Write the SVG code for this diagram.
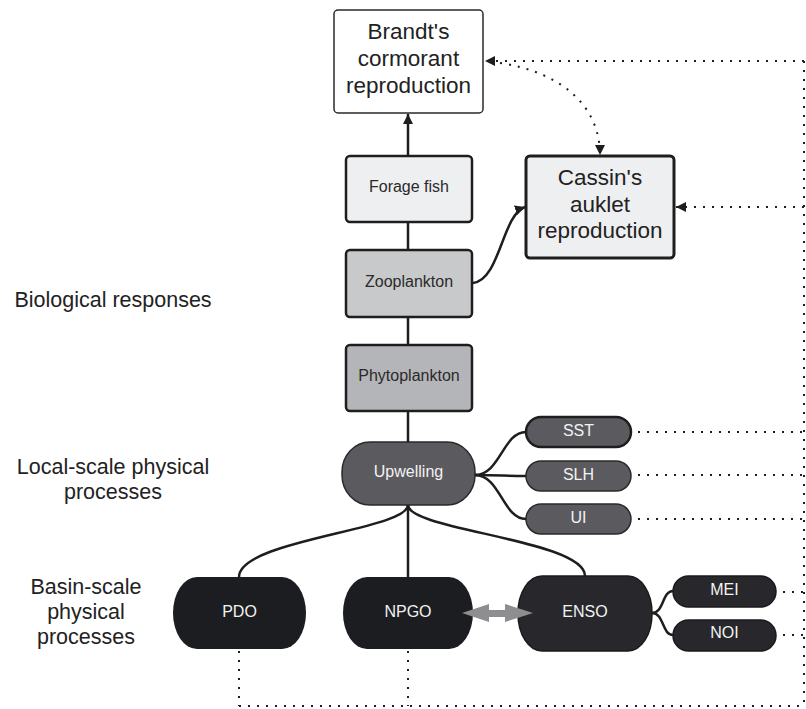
<svg xmlns="http://www.w3.org/2000/svg" width="806" height="709" viewBox="0 0 806 709">
<style>
text{font-family:"Liberation Sans",Arial,sans-serif;text-anchor:middle}
.lbl{font-size:21.5px;fill:#222}
.big{font-size:22.5px;fill:#222}
.t{font-size:16px;fill:#2a2a2a}
.w{font-size:16px;fill:#f2f2f2}
.ln{fill:none;stroke:#1e1e1e;stroke-width:2.5}
.dot{fill:none;stroke:#1e1e1e;stroke-width:2;stroke-dasharray:2 7}
</style>
<defs>
<marker id="ah" viewBox="0 0 10 10" refX="10" refY="5" markerWidth="10" markerHeight="10" markerUnits="userSpaceOnUse" orient="auto">
<path d="M0,0 L10,5 L0,10 z" fill="#1e1e1e"/>
</marker>
</defs>
<rect width="806" height="709" fill="#fff"/>

<g id="labels">
<text class="lbl" x="113" y="307">Biological responses</text>
<text class="lbl" x="113" y="474">Local-scale physical</text>
<text class="lbl" x="113" y="499">processes</text>
<text class="lbl" x="86" y="594">Basin-scale</text>
<text class="lbl" x="86" y="619">physical</text>
<text class="lbl" x="86" y="644">processes</text>
</g>

<g id="brandt">
<rect x="334" y="10" width="149" height="103" rx="4" fill="#fff" stroke="#2a2a2a" stroke-width="1.5"/>
<text class="big" x="408.5" y="39">Brandt's</text>
<text class="big" x="408.5" y="66">cormorant</text>
<text class="big" x="408.5" y="93">reproduction</text>
</g>

<g id="forage">
<rect x="346" y="156" width="126" height="66" rx="4" fill="#eeeff1" stroke="#1e1e1e" stroke-width="2.5"/>
<text class="t" x="409" y="192">Forage fish</text>
</g>

<g id="cassin">
<rect x="526" y="156" width="148" height="102" rx="4" fill="#eeeff1" stroke="#1e1e1e" stroke-width="3"/>
<text class="big" x="600" y="185">Cassin's</text>
<text class="big" x="600" y="212">auklet</text>
<text class="big" x="600" y="238">reproduction</text>
</g>

<g id="zooplankton">
<rect x="346" y="250" width="126" height="67" rx="4" fill="#c8c9cb" stroke="#1e1e1e" stroke-width="2.5"/>
<text class="t" x="409" y="287">Zooplankton</text>
</g>

<g id="phytoplankton">
<rect x="346" y="345" width="126" height="66" rx="4" fill="#b4b5b8" stroke="#1e1e1e" stroke-width="2.5"/>
<text class="t" x="409" y="381">Phytoplankton</text>
</g>

<g id="upwelling">
<rect x="342" y="442" width="133" height="63" rx="28" ry="30" fill="#5b5a5f" stroke="#2a2a2a" stroke-width="1.5"/>
<text class="w" x="408.5" y="477">Upwelling</text>
</g>

<g id="sst">
<rect x="526" y="417" width="105" height="30" rx="15" fill="#5b5a5f" stroke="#1e1e1e" stroke-width="2.5"/>
<text class="w" x="578.5" y="436">SST</text>
</g>
<g id="slh">
<rect x="526" y="461" width="105" height="30" rx="15" fill="#5b5a5f" stroke="#2a2a2a" stroke-width="1.5"/>
<text class="w" x="578.5" y="480">SLH</text>
</g>
<g id="ui">
<rect x="526" y="504" width="105" height="30" rx="15" fill="#5b5a5f" stroke="#2a2a2a" stroke-width="1.5"/>
<text class="w" x="578.5" y="523">UI</text>
</g>

<g id="pdo">
<rect x="173" y="577" width="133" height="72" rx="24" ry="36" fill="#1c1d20"/>
<text class="w" x="239.5" y="617">PDO</text>
</g>
<g id="npgo">
<rect x="343" y="577" width="130" height="72" rx="24" ry="36" fill="#1c1d20"/>
<text class="w" x="408" y="617">NPGO</text>
</g>
<g id="enso">
<rect x="518" y="576" width="134" height="75" rx="24" ry="37" fill="#28282c" stroke="#1a1a1c" stroke-width="1.5"/>
<text class="w" x="585" y="617">ENSO</text>
</g>
<g id="mei">
<rect x="673" y="576" width="103" height="31" rx="15.5" fill="#28282c" stroke="#1a1a1c" stroke-width="1.5"/>
<text class="w" x="724.5" y="595">MEI</text>
</g>
<g id="noi">
<rect x="673" y="620" width="103" height="31" rx="15.5" fill="#28282c" stroke="#1a1a1c" stroke-width="1.5"/>
<text class="w" x="724.5" y="638">NOI</text>
</g>

<g id="connectors">
<line class="ln" x1="408" y1="156" x2="408" y2="114" marker-end="url(#ah)"/>
<line class="ln" x1="408" y1="250" x2="408" y2="222"/>
<line class="ln" x1="408" y1="345" x2="408" y2="317"/>
<line class="ln" x1="408" y1="442" x2="408" y2="411"/>
<path class="ln" d="M473 283 C500 280,502 215,525 207" marker-end="url(#ah)"/>
<path class="ln" d="M475 475 C500 475,503 432,526 432"/>
<path class="ln" d="M475 475 C500 475,505 476,526 476"/>
<path class="ln" d="M475 475 C500 475,503 519,526 519"/>
<path class="ln" d="M408 505 C408 530,239 540,239 577"/>
<line class="ln" x1="408" y1="505" x2="408" y2="577"/>
<path class="ln" d="M408 505 C408 530,585 540,585 576"/>
<path class="ln" d="M652 613 C664 613,662 591,673 591"/>
<path class="ln" d="M652 613 C664 613,662 635,673 635"/>
<polygon points="462,613 489,604 489,610 505,610 505,604 533,613 505,622 505,617 489,617 489,622" fill="#8e8e91"/>

<line class="dot" x1="804" y1="61" x2="485" y2="61" marker-end="url(#ah)"/>
<path class="dot" d="M500 63 C560 72,600 105,600 155" marker-end="url(#ah)"/>
<line class="dot" x1="804" y1="207" x2="676" y2="207" marker-end="url(#ah)"/>
<line class="dot" x1="804" y1="61" x2="804" y2="706"/>
<line class="dot" x1="638" y1="432" x2="804" y2="432"/>
<line class="dot" x1="638" y1="475" x2="804" y2="475"/>
<line class="dot" x1="638" y1="519" x2="804" y2="519"/>
<line class="dot" x1="783" y1="592" x2="804" y2="592"/>
<line class="dot" x1="783" y1="635" x2="804" y2="635"/>
<line class="dot" x1="239" y1="651" x2="239" y2="706"/>
<line class="dot" x1="408" y1="651" x2="408" y2="706"/>
<line class="dot" x1="239" y1="706" x2="804" y2="706"/>
</g>
</svg>
